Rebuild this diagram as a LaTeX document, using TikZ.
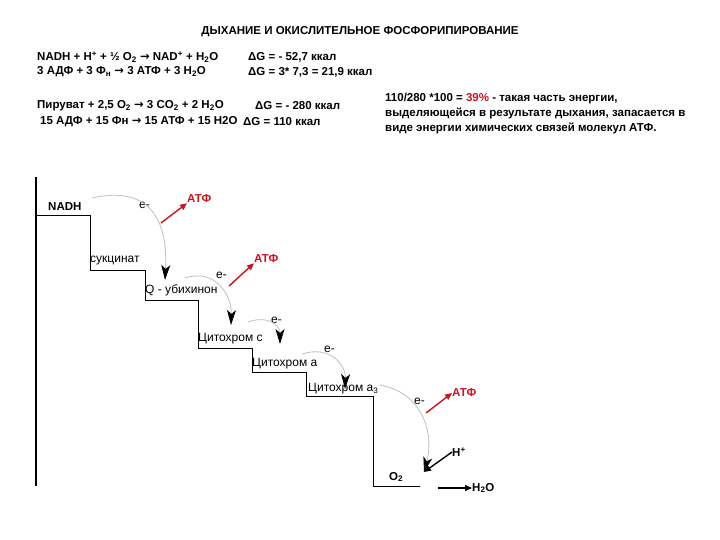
\documentclass[tikz,border=0pt]{standalone}
\usepackage{fontspec}
\setmainfont{Liberation Sans}
\newfontfamily\djv{DejaVu Sans}
\newcommand{\rarr}{{\djv\bfseries →}}
\usetikzlibrary{arrows.meta}
\definecolor{atf}{RGB}{200,20,30}
\begin{document}
\begin{tikzpicture}[x=1pt,y=-1pt,
  txt/.style={font=\fontsize{11.5}{14}\selectfont\bfseries,inner sep=0pt,anchor=west},
  lab/.style={font=\fontsize{12}{14}\selectfont,inner sep=0pt,anchor=west},
  atfl/.style={font=\fontsize{11.5}{14}\selectfont\bfseries,text=atf,inner sep=0pt,anchor=west},
  earc/.style={draw=black!25,line width=0.8pt,-{Stealth[length=15pt,width=9pt,inset=4pt,fill=black,color=black]}},
  redar/.style={draw=atf,line width=1.4pt,-{Triangle[length=7pt,width=6pt]}},
  blkar/.style={draw=black,line width=1.4pt,-{Triangle[length=7pt,width=6pt]}},
  stair/.style={draw=black,line width=0.8pt}]
\useasboundingbox (0,0) rectangle (720,540);
\node[font=\fontsize{11.5}{14}\selectfont\bfseries,inner sep=0pt] (title) at (360,32) {ДЫХАНИЕ И ОКИСЛИТЕЛЬНОЕ ФОСФОРИПИРОВАНИЕ};
\node[txt] (e1) at (37,57) {NADH + H\textsuperscript{+} + ½ O\textsubscript{2} \rarr{} NAD\textsuperscript{+} + H\textsubscript{2}O};
\node[txt] (g1) at (248,57) {ΔG = - 52,7 ккал};
\node[txt] (e2) at (37,72) {3 АДФ + 3 Ф\textsubscript{н} \rarr{} 3 АТФ + 3 H\textsubscript{2}O};
\node[txt] (g2) at (248,72) {ΔG = 3* 7,3 = 21,9 ккал};
\node[txt] (e3) at (37,106) {Пируват + 2,5 O\textsubscript{2} \rarr{} 3 CO\textsubscript{2} + 2 H\textsubscript{2}O};
\node[txt] (g3) at (255,106) {ΔG = - 280 ккал};
\node[txt] (e4) at (40,122) {15 АДФ + 15 Фн \rarr{} 15 АТФ + 15 H2O};
\node[txt] (g4) at (243,122) {ΔG = 110 ккал};
\node[txt,anchor=north west,align=left,font=\fontsize{11.5}{15}\selectfont\bfseries] (rt) at (385,93) {110/280 *100 = \textcolor{atf}{39\%} - такая часть энергии,\\выделяющейся в результате дыхания, запасается в\\виде энергии химических связей молекул АТФ.};
% staircase
\draw[stair,line width=1.2pt] (36,177) -- (36,486);
\draw[stair] (36,215) -- (90,215) -- (90,270) -- (145,270) -- (145,300) -- (198,300) -- (198,348) -- (252,348) -- (252,372) -- (306,372) -- (306,396) -- (373,396) -- (373,486) -- (420,486);
\node[txt] (nadh) at (48,207) {NADH};
\node[lab] (suc) at (90,261) {сукцинат};
\node[lab] (q) at (145,290) {Q - убихинон};
\node[lab] (cc) at (198,339) {Цитохром с};
\node[lab] (ca) at (252,364) {Цитохром а};
\node[lab] (ca3) at (308,389) {Цитохром а\textsubscript{3}};
\node[txt] (o2) at (389,477) {O\textsubscript{2}};
\node[txt] (h2o) at (472,488) {H\textsubscript{2}O};
\node[txt] (hp) at (452,452) {H\textsuperscript{+}};
\node[lab] (el1) at (139,205) {e-};
\node[lab] (el2) at (216,275) {e-};
\node[lab] (el3) at (271,320) {e-};
\node[lab] (el4) at (324,349) {e-};
\node[lab] (el5) at (414,401) {e-};
\node[atfl] (a1) at (187,199) {АТФ};
\node[atfl] (a2) at (254,259) {АТФ};
\node[atfl] (a3) at (452,393) {АТФ};
\coordinate (s1) at (92,198); \coordinate (t1) at (165,280);
\coordinate (s2) at (185,278); \coordinate (t2) at (231,325);
\coordinate (s3) at (248,322); \coordinate (t3) at (280,344);
\coordinate (s4) at (302,354); \coordinate (t4) at (345,389);
\coordinate (s5) at (380,385); \coordinate (t5) at (424,472);
\draw[earc] (s1) .. controls (150,185) and (168,220) .. (t1);
\draw[earc] (s2) .. controls (215,268) and (232,295) .. (t2);
\draw[earc] (s3) .. controls (268,315) and (280,325) .. (t3);
\draw[earc] (s4) .. controls (330,345) and (346,365) .. (t4);
\draw[earc] (s5) .. controls (420,392) and (435,430) .. (t5);
\coordinate (r1) at (161,223); \coordinate (r2) at (229,286); \coordinate (r3) at (426,413);
\draw[redar] (r1) -- (a1.south west);
\draw[redar] (r2) -- (a2.south west);
\draw[redar] (r3) -- (a3.west);
\draw[blkar] (hp.west) -- (t5);
\coordinate (w1) at (438,488);
\draw[blkar] (w1) -- (h2o.west);
\end{tikzpicture}
\end{document}
